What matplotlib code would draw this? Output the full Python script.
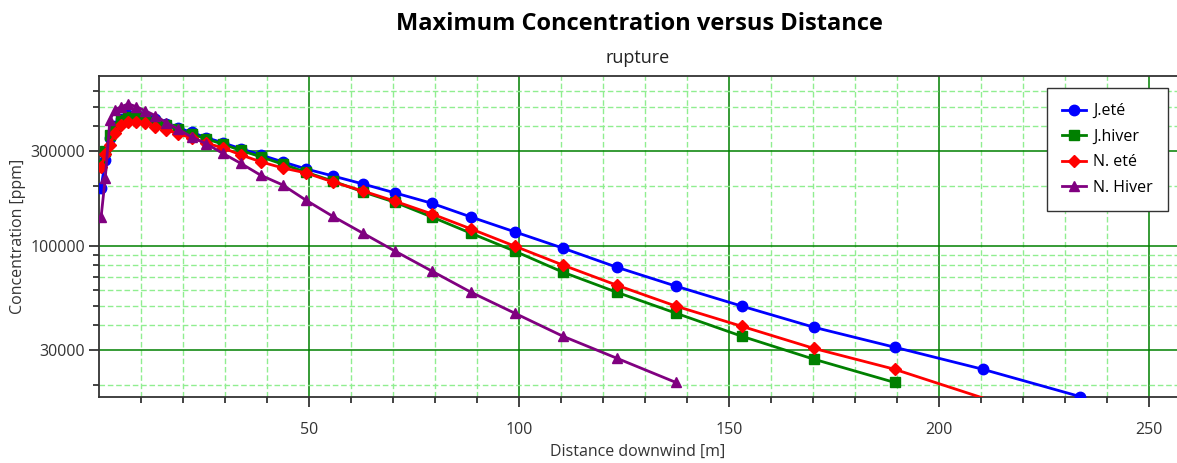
import matplotlib
matplotlib.use("Agg")
import matplotlib.pyplot as plt
from matplotlib.ticker import FixedLocator, NullFormatter

plt.rcParams['font.family'] = ['Open Sans', 'DejaVu Sans']

# === data ===
distance = [0.5, 1.5, 2.6, 3.8, 5.3, 7.0, 8.9, 11.0, 13.4, 16.0, 18.9, 22.1,
            25.6, 29.5, 33.8, 38.5, 43.7, 49.3, 55.7, 62.9, 70.5, 79.3, 88.6,
            99.0, 110.5, 123.3, 137.4, 153.1, 170.2, 189.5, 210.5, 233.6]

j_ete = [196000, 270000, 350000, 400000, 435000, 455000, 460000, 450000,
         432000, 412000, 392000, 372000, 350000, 330000, 308000, 287000,
         265000, 244000, 225000, 205000, 185000, 164000, 140000, 118000,
         97700, 78400, 63000, 50000, 39200, 31100, 24100, 17600]

j_hiver = [255000, 300000, 360000, 395000, 430000, 445000, 445000, 438000,
           422000, 405000, 385000, 365000, 345000, 325000, 302000, 281000,
           258000, 235000, 212000, 187000, 166000, 140000, 116000, 94400,
           74000, 58700, 46100, 35300, 27100, 20700]

n_ete = [250000, 290000, 322000, 370000, 406000, 421000, 421000, 415000,
         398000, 383000, 366000, 349000, 329000, 311000, 287000, 265000,
         247000, 233000, 210000, 189000, 168000, 145000, 122000, 100000,
         80300, 63700, 50000, 39600, 30700, 24100, 17300]

n_hiver = [140000, 220000, 430000, 483000, 501000, 517000, 501000, 478000,
           452000, 417000, 386000, 352000, 326000, 292000, 260000, 227000,
           203000, 170000, 141000, 116000, 94400, 74900, 58700, 46100,
           35300, 27400, 20700]

series = [
    ("J.eté", j_ete, "#0000ff", "o", 7.5),
    ("J.hiver", j_hiver, "#008000", "s", 7),
    ("N. eté", n_ete, "#ff0000", "D", 6),
    ("N. Hiver", n_hiver, "#800080", "^", 7.5),
]

major_y = [30000, 100000, 300000]
minor_y = [20000, 40000, 50000, 60000, 70000, 80000, 90000,
           200000, 400000, 500000, 600000]
major_x = [50, 100, 150, 200, 250]
minor_x = [10, 20, 30, 40, 60, 70, 80, 90, 110, 120, 130, 140, 160, 170, 180,
           190, 210, 220, 230, 240]

y_min, y_max = 17500, 710000

fig = plt.figure(figsize=(11.77, 4.63), dpi=100)
ax = fig.add_axes([0.0841, 0.1425, 0.9159, 0.6923])

for label, values, color, marker, ms in series:
    # 超出下限的点只画线，不画标记
    shown = [i for i, v in enumerate(values) if v >= y_min]
    ax.plot(distance[:len(values)], values, color=color, lw=2.0,
            marker=marker, ms=ms, markevery=shown, label=label, zorder=3)

ax.set_yscale("log")
ax.set_xlim(0, 256.7)
ax.set_ylim(y_min, y_max)

ax.yaxis.set_major_locator(FixedLocator(major_y))
ax.yaxis.set_minor_locator(FixedLocator(minor_y))
ax.yaxis.set_minor_formatter(NullFormatter())
ax.set_yticklabels([str(v) for v in major_y])
ax.xaxis.set_major_locator(FixedLocator(major_x))
ax.xaxis.set_minor_locator(FixedLocator(minor_x))
ax.set_xticklabels([str(v) for v in major_x])

# 网格
ax.grid(which="major", color="#008000", lw=1.1, ls="-", zorder=1)
ax.grid(which="minor", color="#90ee90", lw=1.0, ls=(0, (4, 2)), zorder=1)

ax.tick_params(which="major", length=7, width=1.2, color="#222222",
               labelsize=11.5, labelcolor="#333333")
ax.tick_params(axis="x", which="major", pad=11)
ax.tick_params(axis="y", which="major", pad=3)
ax.tick_params(which="minor", length=4.5, width=1.2, color="#222222")

for side in ("left", "bottom", "top"):
    ax.spines[side].set_color("#333333")
    ax.spines[side].set_linewidth(1.3)
ax.spines["right"].set_visible(False)

ax.set_xlabel("Distance downwind [m]", fontsize=11.5, color="#333333", labelpad=4)
ax.set_ylabel("Concentration [ppm]", fontsize=11.5, color="#333333", labelpad=3)

fig.text(0.543, 0.948, "Maximum Concentration versus Distance", ha="center",
         va="center", fontsize=17, fontweight="bold", color="black")
fig.text(0.542, 0.874, "rupture", ha="center", va="center", fontsize=13,
         color="#222222")

leg = ax.legend(loc="upper right", bbox_to_anchor=(0.992, 0.964),
                borderaxespad=0, fontsize=11.5, handlelength=1.5,
                handletextpad=0.45, fancybox=False, framealpha=1,
                edgecolor="#333333", borderpad=0.95, labelspacing=0.6)
leg.get_frame().set_linewidth(1.0)

fig.savefig("out.png", dpi=100)
